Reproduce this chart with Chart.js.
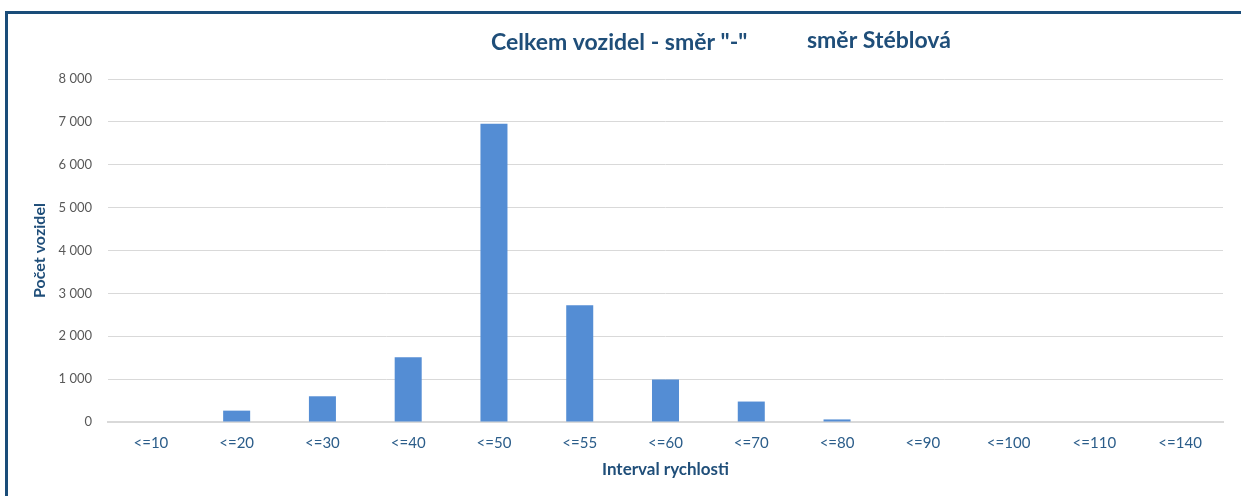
<!DOCTYPE html>
<html>
<head>
<meta charset="utf-8">
<script src="https://cdn.jsdelivr.net/npm/chart.js@4"></script>
<style>
  html, body { margin: 0; padding: 0; background: #fff; overflow: hidden; }
  #wrap { position: relative; width: 1241px; height: 496px; }
  #frame { position: absolute; left: 5px; top: 11px; width: 1300px; height: 600px;
           border-top: 3px solid #1a4d79; border-left: 3px solid #1a4d79; }
  #chart { position: absolute; left: 0; top: 0; }
</style>
</head>
<body>
<div id="wrap">
  <div id="frame"></div>
  <canvas id="chart" width="1241" height="496"></canvas>
</div>
<script>
// ---------- Data ----------
const CATEGORIES = ['<=10', '<=20', '<=30', '<=40', '<=50', '<=55', '<=60', '<=70', '<=80', '<=90', '<=100', '<=110', '<=140'];
const VEHICLES = [0, 265, 600, 1510, 6955, 2725, 990, 477, 60, 0, 0, 0, 0];
const Y_TICKS = [0, 1000, 2000, 3000, 4000, 5000, 6000, 7000, 8000];
const TITLE_MAIN = 'Celkem vozidel - směr "-"';
const TITLE_DIR = 'směr Stéblová';

const DARK_BLUE = '#1f4e79';
const fmtSpace = (n) => String(n).replace(/\B(?=(\d{3})+(?!\d))/g, ' ');

// two separate title texts, like the original sheet
const titlePlugin = {
  id: 'twoTitles',
  afterDraw(chart) {
    const ctx = chart.ctx;
    ctx.save();
    ctx.fillStyle = DARK_BLUE;
    ctx.font = 'bold 23px Lato';
    ctx.textBaseline = 'alphabetic';
    ctx.textAlign = 'left';
    ctx.fillText(TITLE_MAIN, 491, 50);
    ctx.fillText(TITLE_DIR, 807, 48);
    ctx.restore();
  }
};

new Chart(document.getElementById('chart'), {
  type: 'bar',
  data: {
    labels: CATEGORIES,
    datasets: [{
      data: VEHICLES,
      backgroundColor: '#548dd4',
      borderWidth: 0,
      barPercentage: 0.315,
      categoryPercentage: 1
    }]
  },
  options: {
    responsive: false,
    animation: false,
    layout: { padding: { top: 79, right: 18, bottom: 0, left: 0 } },
    plugins: { legend: { display: false }, tooltip: { enabled: false } },
    scales: {
      x: {
        grid: { display: false, drawTicks: false },
        border: { display: true, color: '#d9d9d9', width: 2 },
        ticks: { color: '#2b5d8a', font: { family: 'Lato', size: 15 }, padding: 12, maxRotation: 0 },
        title: { display: true, text: 'Interval rychlosti', color: DARK_BLUE,
                 font: { family: 'Lato', size: 17, weight: 'bold' }, padding: { top: 0, bottom: 16 } },
        afterFit: (s) => { s.height = 74; }
      },
      y: {
        min: 0, max: 8000,
        afterBuildTicks: (s) => { s.ticks = Y_TICKS.map(v => ({ value: v })); },
        grid: { color: '#d9d9d9', lineWidth: 1, drawTicks: false },
        border: { display: false },
        ticks: { color: '#595959', font: { family: 'Lato', size: 13 }, padding: 16,
                 callback: (v) => fmtSpace(v) },
        title: { display: true, text: 'Počet vozidel', color: DARK_BLUE,
                 font: { family: 'Lato', size: 16, weight: 'bold' }, padding: { top: 30, bottom: 0 } },
        afterFit: (s) => { s.width = 108; }
      }
    }
  },
  plugins: [titlePlugin]
});
</script>
</body>
</html>
